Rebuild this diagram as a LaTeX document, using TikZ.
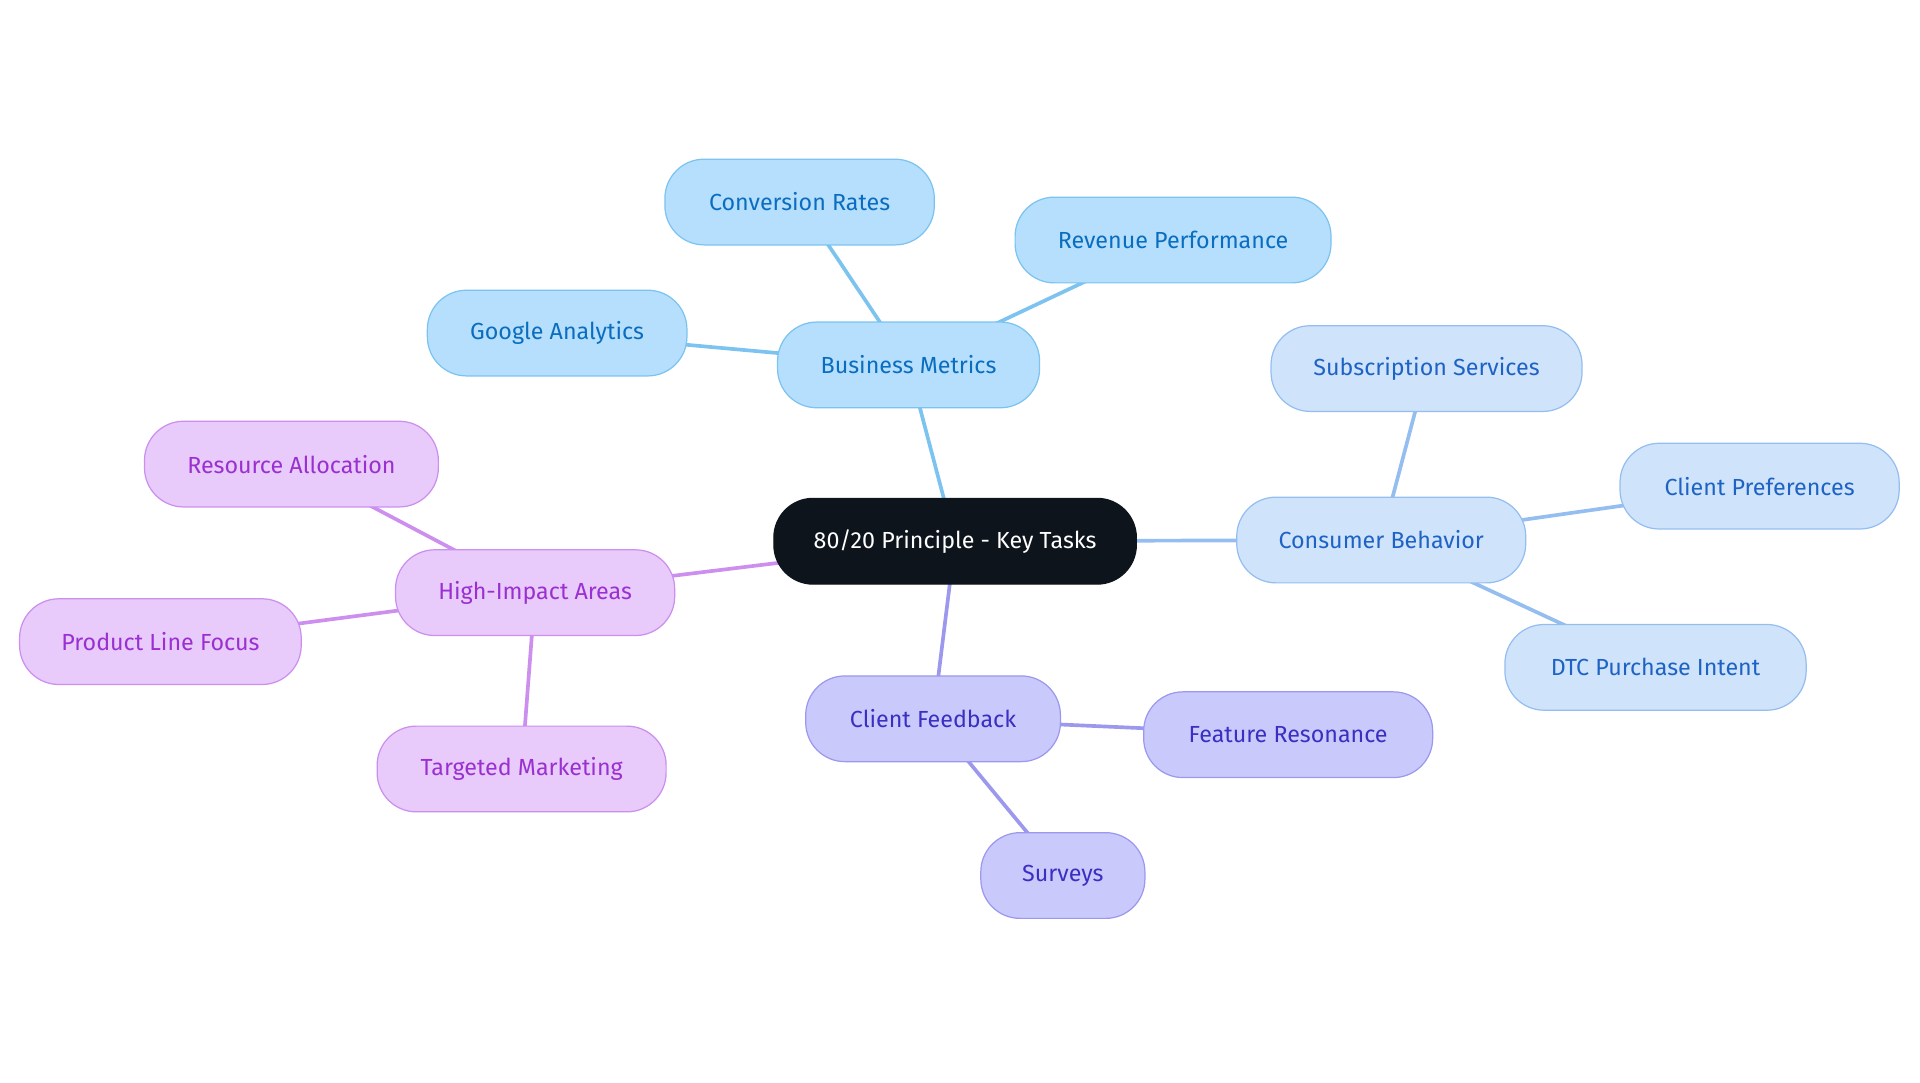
\documentclass[tikz,border=0pt]{standalone}
\usepackage{fontspec}
\setmainfont{Fira Sans}
\usetikzlibrary{backgrounds}
\definecolor{bmF}{HTML}{B5DFFC}\definecolor{bmD}{HTML}{7CC3F0}\definecolor{bmT}{HTML}{0B6DBF}
\definecolor{cbF}{HTML}{CFE3FB}\definecolor{cbD}{HTML}{95BEF0}\definecolor{cbT}{HTML}{1E63C4}
\definecolor{cfF}{HTML}{C9C9FB}\definecolor{cfD}{HTML}{9C98EE}\definecolor{cfT}{HTML}{3A2FC0}
\definecolor{hiF}{HTML}{E8CAFB}\definecolor{hiD}{HTML}{CC8FEE}\definecolor{hiT}{HTML}{9A30D0}
\definecolor{ctr}{HTML}{0D141C}
\tikzset{
 pill/.style={rounded corners=32pt,minimum height=70pt,inner sep=0pt,line width=1pt,font=\fontsize{19pt}{22pt}\selectfont},
 bm/.style={pill,fill=bmF,draw=bmD,text=bmT},
 cb/.style={pill,fill=cbF,draw=cbD,text=cbT},
 cf/.style={pill,fill=cfF,draw=cfD,text=cfT},
 hi/.style={pill,fill=hiF,draw=hiD,text=hiT},
 lk/.style={line width=3pt},
}
\begin{document}
\begin{tikzpicture}[x=1pt,y=-1pt]
\useasboundingbox (0,0) rectangle (1568,884);
\node[pill,fill=ctr,draw=ctr,text=white,minimum width=296pt] (c) at (780,442) {80/20 Principle - Key Tasks};
\node[bm,minimum width=214pt] (bm) at (742,298) {Business Metrics};
\node[bm,minimum width=220pt] (cr) at (653,165) {Conversion Rates};
\node[bm,minimum width=258pt] (rp) at (958,196) {Revenue Performance};
\node[bm,minimum width=212pt] (ga) at (455,272) {Google Analytics};
\node[cb,minimum width=236pt] (cb) at (1128,441) {Consumer Behavior};
\node[cb,minimum width=254pt] (ss) at (1165,301) {Subscription Services};
\node[cb,minimum width=228pt] (cp) at (1437,397) {Client Preferences};
\node[cb,minimum width=246pt] (dtc) at (1352,545) {DTC Purchase Intent};
\node[cf,minimum width=208pt] (cf) at (762,587) {Client Feedback};
\node[cf,minimum width=236pt] (fr) at (1052,600) {Feature Resonance};
\node[cf,minimum width=134pt] (sv) at (868,715) {Surveys};
\node[hi,minimum width=228pt] (hi) at (437,484) {High-Impact Areas};
\node[hi,minimum width=240pt] (ra) at (238,379) {Resource Allocation};
\node[hi,minimum width=230pt] (pl) at (131,524) {Product Line Focus};
\node[hi,minimum width=236pt] (tm) at (426,628) {Targeted Marketing};
\begin{scope}[on background layer]
\draw[lk,bmD] (c.center)--(bm.center) (bm.center)--(cr.center) (bm.center)--(rp.center) (bm.center)--(ga.center);
\draw[lk,cbD] (c.center)--(cb.center) (cb.center)--(ss.center) (cb.center)--(cp.center) (cb.center)--(dtc.center);
\draw[lk,cfD] (c.center)--(cf.center) (cf.center)--(fr.center) (cf.center)--(sv.center);
\draw[lk,hiD] (c.center)--(hi.center) (hi.center)--(ra.center) (hi.center)--(pl.center) (hi.center)--(tm.center);
\end{scope}
\end{tikzpicture}
\end{document}
